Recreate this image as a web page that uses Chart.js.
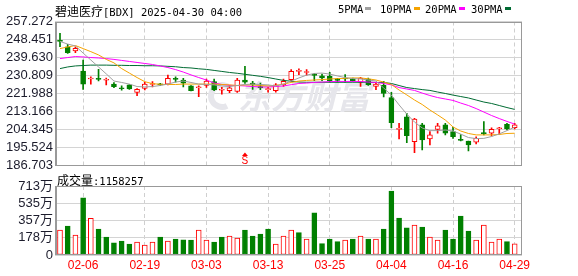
<!DOCTYPE html>
<html>
<head>
<meta charset="utf-8">
<script src="https://cdn.jsdelivr.net/npm/chart.js@4.4.1/dist/chart.umd.min.js"></script>
<style>
  html, body { margin: 0; padding: 0; background: #fff; }
  #wrap { position: relative; width: 578px; height: 276px; overflow: hidden; }
  canvas { position: absolute; left: 0; }
  #priceChart { top: 0; }
  #volChart { top: 170px; }
  .txt { position: absolute; white-space: nowrap; color: #000; font: 10.5px "DejaVu Sans Mono", monospace; line-height: 12px; }
  .cjk { font: 12px "Noto Sans CJK SC", sans-serif; }
  .sw { position: absolute; top: 7px; width: 6px; height: 3px; }
</style>
</head>
<body>
<div id="wrap">
  <canvas id="priceChart" width="578" height="178"></canvas>
  <canvas id="volChart" width="578" height="106"></canvas>
  <div class="txt" style="left:55px;top:2px"><span class="cjk">碧迪医疗</span>[BDX] 2025-04-30 04:00</div>
  <div id="legend"></div>
  <div class="txt" style="left:57px;top:171px"><span class="cjk">成交量</span>:1158257</div>
</div>
<script>
// 交易日 (2025)
const dates = [
  "02-03","02-04","02-05","02-06","02-07","02-10","02-11","02-12","02-13","02-14",
  "02-18","02-19","02-20","02-21","02-24","02-25","02-26","02-27","02-28","03-03",
  "03-04","03-05","03-06","03-07","03-10","03-11","03-12","03-13","03-14","03-17",
  "03-18","03-19","03-20","03-21","03-24","03-25","03-26","03-27","03-28","03-31",
  "04-01","04-02","04-03","04-04","04-07","04-08","04-09","04-10","04-11","04-14",
  "04-15","04-16","04-17","04-21","04-22","04-23","04-24","04-25","04-28","04-29",
];
const xTickDates = ["02-06", "02-19", "03-03", "03-13", "03-25", "04-04", "04-16", "04-29"];

const opens = [
  247.8, 244.9, 242.8, 233.0, 229.1, 229.2, 228.5, 226.6, 224.5, 226.2,
  222.5, 224.5, 226.4, 226.6, 226.6, 229.2, 228.6, 225.7, 224.8, 225.9,
  227.8, 223.6, 223.4, 223.0, 228.6, 227.1, 225.2, 223.9, 223.4, 226.2,
  228.8, 232.8, 232.3, 231.5, 230.7, 230.4, 229.2, 229.3, 229.2, 227.6,
  229.1, 225.5, 226.0, 220.0, 204.4, 210.6, 198.4, 206.6, 199.7, 204.4,
  206.6, 203.3, 199.5, 198.7, 198.1, 202.6, 202.5, 204.7, 206.9, 205.3,
];
const highs = [
  251.5, 246.1, 244.9, 238.4, 230.2, 233.8, 229.6, 227.3, 225.7, 226.4,
  224.4, 227.5, 227.8, 227.0, 231.0, 230.1, 229.4, 225.9, 225.7, 229.1,
  229.0, 225.0, 225.9, 229.4, 235.3, 228.0, 227.1, 225.0, 226.9, 229.1,
  233.7, 234.1, 233.7, 231.7, 231.5, 232.4, 229.4, 231.2, 229.6, 229.9,
  229.6, 227.1, 227.9, 222.5, 207.4, 212.3, 209.8, 207.4, 203.3, 207.4,
  207.4, 205.4, 201.9, 198.7, 200.8, 208.2, 205.2, 205.4, 207.4, 207.4,
];
const lows = [
  244.9, 241.6, 242.0, 224.0, 226.5, 228.1, 226.2, 224.8, 223.6, 224.0,
  220.9, 223.7, 225.2, 225.8, 226.2, 227.5, 225.2, 223.2, 220.4, 225.0,
  223.4, 221.7, 222.4, 222.5, 226.9, 224.0, 223.9, 222.6, 222.7, 225.4,
  227.9, 231.2, 231.0, 228.3, 228.3, 227.6, 227.6, 227.6, 227.9, 225.5,
  226.0, 223.9, 220.3, 205.3, 199.7, 197.9, 193.0, 194.3, 196.8, 202.5,
  201.7, 200.0, 198.7, 193.8, 197.3, 201.7, 201.2, 202.1, 204.1, 204.6,
];
const closes = [
  247.5, 242.0, 244.1, 226.6, 229.3, 228.9, 228.8, 225.3, 224.3, 224.2,
  224.0, 226.6, 226.6, 226.2, 229.4, 228.9, 227.1, 223.4, 225.1, 228.1,
  223.7, 223.9, 224.8, 228.6, 227.6, 226.3, 224.9, 224.3, 226.2, 227.9,
  232.9, 233.0, 232.5, 230.9, 229.6, 228.3, 228.4, 229.1, 228.1, 229.6,
  226.3, 226.6, 222.0, 207.7, 204.7, 201.3, 209.4, 199.2, 201.7, 206.2,
  202.5, 200.8, 199.0, 196.8, 200.0, 202.3, 204.4, 204.9, 204.6, 206.6,
];

const ma5 = [
  247.5, 246.2, 245.3, 241.8, 238.4, 235.0, 231.6, 228.1, 227.4, 226.6,
  225.4, 225.2, 225.4, 225.9, 226.6, 227.6, 228.1, 227.4, 226.6, 226.4,
  226.2, 225.7, 225.4, 225.9, 226.4, 226.6, 226.4, 226.2, 225.7, 226.6,
  228.1, 229.6, 231.0, 231.8, 232.0, 231.5, 230.6, 229.8, 229.3, 229.1,
  228.6, 228.1, 224.7, 221.2, 216.4, 211.9, 208.0, 205.1, 203.8, 203.8,
  204.1, 203.6, 202.1, 200.4, 199.9, 200.0, 200.9, 202.2, 203.8, 205.5,
];
const ma10 = [
  244.0, 244.8, 245.5, 244.0, 242.5, 240.9, 238.7, 237.0, 234.2, 232.0,
  229.8, 227.8, 226.8, 226.5, 226.4, 226.4, 226.6, 226.6, 226.6, 226.6,
  226.6, 226.4, 226.2, 225.9, 226.2, 226.2, 225.9, 225.7, 225.9, 226.6,
  227.4, 228.1, 228.4, 228.6, 228.8, 229.1, 229.3, 229.4, 229.6, 229.6,
  229.2, 228.6, 227.6, 226.4, 223.7, 221.3, 218.8, 216.6, 213.9, 211.5,
  209.0, 205.6, 203.6, 202.4, 201.7, 201.7, 201.7, 201.9, 202.4, 202.5,
];
const ma20 = [
  239.1, 239.6, 240.1, 239.9, 239.6, 239.4, 239.1, 238.7, 238.2, 237.7,
  237.2, 236.7, 236.2, 235.5, 234.7, 233.7, 232.5, 231.1, 229.8, 228.6,
  227.1, 226.4, 226.0, 225.9, 225.7, 225.4, 225.2, 225.2, 225.4, 225.7,
  226.3, 226.9, 227.1, 227.4, 227.6, 227.8, 227.9, 227.9, 227.9, 227.9,
  227.6, 227.4, 226.9, 226.2, 224.9, 224.2, 223.5, 222.2, 221.0, 220.0,
  219.3, 218.6, 217.3, 216.1, 214.6, 212.9, 211.2, 209.7, 208.3, 207.0,
];
const ma30 = [
  234.2, 235.0, 235.5, 235.7, 235.9, 235.9, 235.9, 235.8, 235.8, 235.7,
  235.7, 235.6, 235.6, 235.5, 235.3, 235.1, 234.7, 234.5, 234.1, 233.8,
  233.3, 232.8, 232.3, 231.9, 231.4, 230.9, 230.4, 229.8, 229.1, 228.4,
  228.0, 227.6, 227.5, 227.5, 227.5, 227.5, 227.5, 227.5, 227.5, 227.5,
  227.5, 227.4, 227.4, 226.9, 225.9, 224.9, 224.4, 223.9, 223.5, 222.7,
  222.0, 221.2, 220.5, 219.8, 218.8, 217.8, 217.1, 216.1, 215.1, 214.2,
];

// 成交量 (万股)
const volumes = [
  258, 300, 207, 592, 379, 269, 186, 127, 145, 114,
  134, 103, 134, 186, 145, 165, 158, 155, 258, 155,
  134, 186, 196, 176, 258, 196, 217, 269, 114, 196,
  258, 231, 165, 437, 117, 165, 138, 155, 165, 196,
  165, 165, 269, 661, 382, 282, 310, 289, 186, 155,
  258, 165, 403, 248, 155, 310, 134, 165, 138, 115.83,
];
// 1 = 红 (涨), 0 = 绿
const volUp = [
  1, 0, 1, 0, 1, 0, 0, 0, 0, 0,
  1, 1, 1, 0, 1, 0, 0, 0, 1, 1,
  0, 0, 1, 1, 0, 0, 0, 0, 1, 1,
  1, 0, 1, 0, 0, 0, 0, 1, 0, 1,
  0, 1, 0, 0, 0, 0, 1, 0, 1, 1,
  0, 0, 0, 0, 1, 1, 1, 1, 0, 1,
];

const priceTicks = [257.272, 248.451, 239.630, 230.809, 221.988, 213.166, 204.345, 195.524, 186.703];
const volTickValues = [0, 178.25, 356.5, 534.75, 713];
const volTickLabels = ["0", "178万", "357万", "535万", "713万"];

const maNames = ["5PMA", "10PMA", "20PMA", "30PMA"];
const signalDate = "03-10";

// ---- 样式 ----
const RED = "#ff0000";
const GREEN = "#008000";
const MA_COLORS = ["#a0a0a0", "#f5a300", "#ff00ff", "#006b33"];
const LEGEND_LEFT = [338, 380, 425, 471];

Chart.defaults.font.family = '"Liberation Sans", "Noto Sans CJK SC", sans-serif';
Chart.defaults.animation = false;

const idx = dates.map((_, i) => i);
const xTickIdx = xTickDates.map((d) => dates.indexOf(d));
const isUp = (i) => closes[i] >= opens[i];

// legend
const legendEl = document.getElementById("legend");
maNames.forEach((name, i) => {
  const t = document.createElement("div");
  t.className = "txt";
  t.style.left = LEGEND_LEFT[i] + "px";
  t.style.top = "3px";
  t.textContent = name;
  legendEl.appendChild(t);
  const sw = document.createElement("div");
  sw.className = "sw";
  sw.style.background = MA_COLORS[i];
  sw.style.left = LEGEND_LEFT[i] + name.length * 6.3 + 2 + "px";
  legendEl.appendChild(sw);
});

const framePlugin = {
  id: "frame",
  afterDatasetsDraw(chart) {
    const { ctx, chartArea: a } = chart;
    const l = Math.round(a.left), t = Math.round(a.top);
    const r = Math.round(a.right), b = Math.round(a.bottom);
    ctx.save();
    ctx.strokeStyle = "#999";
    ctx.lineWidth = 1;
    ctx.strokeRect(l + 0.5, t + 0.5, r - l - 1, b - t - 1);
    ctx.lineWidth = 2;
    ctx.beginPath();
    ctx.moveTo(l + 1, t);
    ctx.lineTo(l + 1, b);
    ctx.stroke();
    ctx.restore();
  },
};

const watermarkPlugin = {
  id: "watermark",
  beforeDatasetsDraw(chart) {
    const { ctx } = chart;
    ctx.save();
    ctx.fillStyle = "#e6e6eb";
    ctx.strokeStyle = "#e6e6eb";
    ctx.lineWidth = 6;
    ctx.beginPath();
    ctx.arc(222, 96, 11, Math.PI * 0.35, Math.PI * 1.75);
    ctx.stroke();
    ctx.font = 'italic bold 33px "Noto Sans CJK SC"';
    ctx.textBaseline = "middle";
    ctx.fillText("东方财富", 238, 96);
    ctx.restore();
  },
};

const signalPlugin = {
  id: "signal",
  afterDatasetsDraw(chart) {
    const { ctx, chartArea: a } = chart;
    const x = chart.scales.x.getPixelForValue(dates.indexOf(signalDate));
    const b = a.bottom;
    ctx.save();
    ctx.fillStyle = RED;
    ctx.beginPath();
    ctx.moveTo(x, b - 13);
    ctx.lineTo(x - 3, b - 9.5);
    ctx.lineTo(x + 3, b - 9.5);
    ctx.closePath();
    ctx.fill();
    ctx.font = '10px "Liberation Sans"';
    ctx.textAlign = "center";
    ctx.textBaseline = "middle";
    ctx.fillText("S", x, b - 4.5);
    ctx.restore();
  },
};

function xScale(showLabels) {
  return {
    type: "linear",
    min: -0.649,
    max: 59.95,
    offset: false,
    afterBuildTicks: (s) => { s.ticks = xTickIdx.map((v) => ({ value: v })); },
    afterFit: (s) => { s.height = showLabels ? 21 : 0; },
    grid: { color: "#cfcfcf", drawTicks: false, offset: false },
    border: { display: false, dash: [4, 3] },
    ticks: {
      display: showLabels,
      color: RED,
      font: { size: 12 },
      padding: 3,
      maxRotation: 0,
      autoSkip: false,
      callback: (v) => dates[v],
    },
  };
}

function yGrid() {
  return { color: "#d4d4d4", drawTicks: false };
}

new Chart(document.getElementById("priceChart"), {
  type: "bar",
  data: {
    datasets: [
      ...[ma5, ma10, ma20, ma30].map((ma, k) => ({
        type: "line",
        label: maNames[k],
        data: idx.map((i) => ({ x: i, y: ma[i] })),
        borderColor: MA_COLORS[k],
        borderWidth: 1,
        pointRadius: 0,
        tension: 0,
        order: 0,
      })),
      {
        label: "body",
        data: idx.map((i) => ({ x: i, y: [opens[i], closes[i]] })),
        backgroundColor: idx.map((i) => (isUp(i) ? "#fff" : GREEN)),
        borderColor: idx.map((i) => (isUp(i) ? RED : GREEN)),
        borderWidth: 1,
        borderSkipped: false,
        barThickness: 5,
        minBarLength: 1,
        grouped: false,
        order: 1,
      },
      {
        label: "wick",
        data: idx.map((i) => ({ x: i, y: [lows[i], highs[i]] })),
        backgroundColor: idx.map((i) => (isUp(i) ? RED : GREEN)),
        borderWidth: 0,
        barThickness: 1,
        grouped: false,
        order: 2,
      },
    ],
  },
  options: {
    responsive: false,
    layout: { padding: { left: 0, right: 56, top: 21.5, bottom: 12.5 } },
    plugins: { legend: { display: false }, tooltip: { enabled: false } },
    scales: {
      x: xScale(false),
      y: {
        min: 186.703,
        max: 257.272,
        afterBuildTicks: (s) => { s.ticks = priceTicks.map((v) => ({ value: v })); },
        afterFit: (s) => { s.width = 55; },
        grid: yGrid(),
        border: { display: false },
        ticks: {
          color: "#1c1c2c",
          font: { size: 13 },
          padding: 2,
          autoSkip: false,
          callback: (v) => v.toFixed(3),
        },
      },
    },
  },
  plugins: [watermarkPlugin, framePlugin, signalPlugin],
});

new Chart(document.getElementById("volChart"), {
  type: "bar",
  data: {
    datasets: [
      {
        label: "volume",
        data: idx.map((i) => ({ x: i, y: volumes[i] })),
        backgroundColor: idx.map((i) => (volUp[i] ? "#fff" : GREEN)),
        borderColor: idx.map((i) => (volUp[i] ? RED : GREEN)),
        borderWidth: 1,
        borderSkipped: false,
        barThickness: 5,
        grouped: false,
      },
    ],
  },
  options: {
    responsive: false,
    layout: { padding: { left: 0, right: 56, top: 16, bottom: 0 } },
    plugins: { legend: { display: false }, tooltip: { enabled: false } },
    scales: {
      x: xScale(true),
      y: {
        min: 0,
        max: 713,
        afterBuildTicks: (s) => { s.ticks = volTickValues.map((v) => ({ value: v })); },
        afterFit: (s) => { s.width = 55; },
        grid: yGrid(),
        border: { display: false },
        ticks: {
          color: "#1c1c2c",
          font: { size: 13 },
          padding: 2,
          autoSkip: false,
          callback: (v) => volTickLabels[volTickValues.indexOf(v)],
        },
      },
    },
  },
  plugins: [framePlugin],
});
</script>
</body>
</html>
